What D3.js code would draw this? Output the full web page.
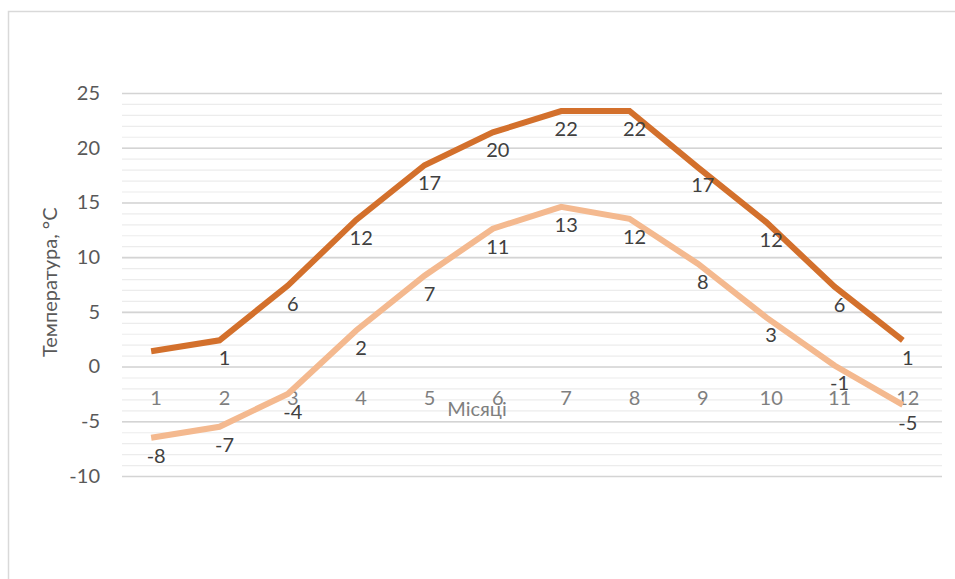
<!DOCTYPE html>
<html>
<head>
<meta charset="utf-8">
<script src="https://cdn.jsdelivr.net/npm/d3@7"></script>
<style>
  body { margin: 0; background: #fff; }
  text { font-family: Lato, "Open Sans", sans-serif; }
</style>
</head>
<body>
<div id="graph"></div>
<script>
    // months on the category axis
    const months = ["1", "2", "3", "4", "5", "6", "7", "8", "9", "10", "11", "12"];
    // line positions
    const high_line = [1.4, 2.4, 7.4, 13.4, 18.4, 21.4, 23.35, 23.35, 18.2, 13.2, 7.3, 2.4];
    const low_line = [-6.5, -5.5, -2.5, 3.3, 8.3, 12.6, 14.6, 13.5, 9.4, 4.5, 0.1, -3.5];
    // data labels as printed (first dark point has no label)
    const high_labels = [null, 1, 6, 12, 17, 20, 22, 22, 17, 12, 6, 1];
    const low_labels = [-8, -7, -4, 2, 7, 11, 13, 12, 8, 3, -1, -5];
    const y_ticks = [-10, -5, 0, 5, 10, 15, 20, 25];

    const width = 955;
    const height = 579;
    const margin = ({top: 93, right: 13, bottom: 103, left: 122});
    const line_shift = -5;
    const font_size = "20px";

    let svg = d3.select("#graph").append("svg")
      .attr("width", width)
      .attr("height", height);

    // chart frame
    svg.append("rect")
      .attr("x", 8.5)
      .attr("y", 11.5)
      .attr("width", width)
      .attr("height", height)
      .attr("fill", "#fff")
      .attr("stroke", "#d9d9d9")
      .attr("stroke-width", 1.5);

    let x = d3.scaleBand()
      .domain(months)
      .range([margin.left, width - margin.right]);
    let y = d3.scaleLinear()
      .domain([-10, 25])
      .range([height - margin.bottom, margin.top]);

    // minor grid, every degree
    svg.append("g")
      .attr("transform", `translate(${margin.left}, 0)`)
      .call(d3.axisLeft(y).tickValues(d3.range(-10, 26, 1)).tickSize(-(x.range()[1] - margin.left)).tickFormat(""))
      .call(g => g.select(".domain").remove())
      .call(g => g.selectAll("line").attr("stroke", "#ececec").attr("stroke-width", 1.2));

    // major grid
    svg.append("g")
      .attr("transform", `translate(${margin.left}, 0)`)
      .call(d3.axisLeft(y).tickValues(y_ticks).tickSize(-(x.range()[1] - margin.left)).tickFormat(""))
      .call(g => g.select(".domain").remove())
      .call(g => g.selectAll("line").attr("stroke", "#d4d4d4").attr("stroke-width", 1.6));

    // y tick labels, plain hyphen for negatives
    svg.append("g")
      .attr("transform", `translate(${margin.left}, 0)`)
      .call(d3.axisLeft(y).tickValues(y_ticks).tickSize(0).tickPadding(22).tickFormat(d => String(d)))
      .call(g => g.select(".domain").remove())
      .call(g => g.selectAll("text").attr("fill", "#595959").style("font-size", font_size).style("font-family", "Lato, sans-serif"));

    // category labels sit below the zero line
    svg.append("g")
      .attr("transform", `translate(0, ${y(0)})`)
      .call(d3.axisBottom(x).tickSize(0).tickPadding(24))
      .call(g => g.select(".domain").remove())
      .call(g => g.selectAll("text").attr("fill", "#7f7f7f").style("font-size", font_size).style("font-family", "Lato, sans-serif"));

    svg.append("text")
      .attr("x", 477)
      .attr("y", y(0) + 49)
      .attr("text-anchor", "middle")
      .attr("fill", "#7f7f7f")
      .style("font-size", font_size)
      .text("Місяці");

    svg.append("text")
      .attr("transform", `translate(57, ${y(7.7)}) rotate(-90)`)
      .attr("text-anchor", "middle")
      .attr("fill", "#595959")
      .style("font-size", font_size)
      .text("Температура, °С");

    let line = d3.line()
      .x((d, i) => x(months[i]) + x.bandwidth() / 2 + line_shift)
      .y(d => y(d));

    svg.append("path")
      .datum(low_line)
      .attr("fill", "none")
      .attr("stroke", "#f4b98f")
      .attr("stroke-width", 6)
      .attr("d", line);

    svg.append("path")
      .datum(high_line)
      .attr("fill", "none")
      .attr("stroke", "#d3702c")
      .attr("stroke-width", 6)
      .attr("d", line);

    // data labels below each point
    const label_sets = [[high_line, high_labels], [low_line, low_labels]];
    label_sets.forEach(function(set) {
      svg.append("g")
        .selectAll("text")
        .data(set[1].map((v, i) => ({v: v, pos: set[0][i], month: months[i]})).filter(d => d.v !== null))
        .enter()
        .append("text")
        .attr("x", d => x(d.month) + x.bandwidth() / 2)
        .attr("y", d => y(d.pos) + 25)
        .attr("text-anchor", "middle")
        .attr("fill", "#404040")
        .style("font-size", font_size)
        .text(d => d.v);
    });
</script>
</body>
</html>
